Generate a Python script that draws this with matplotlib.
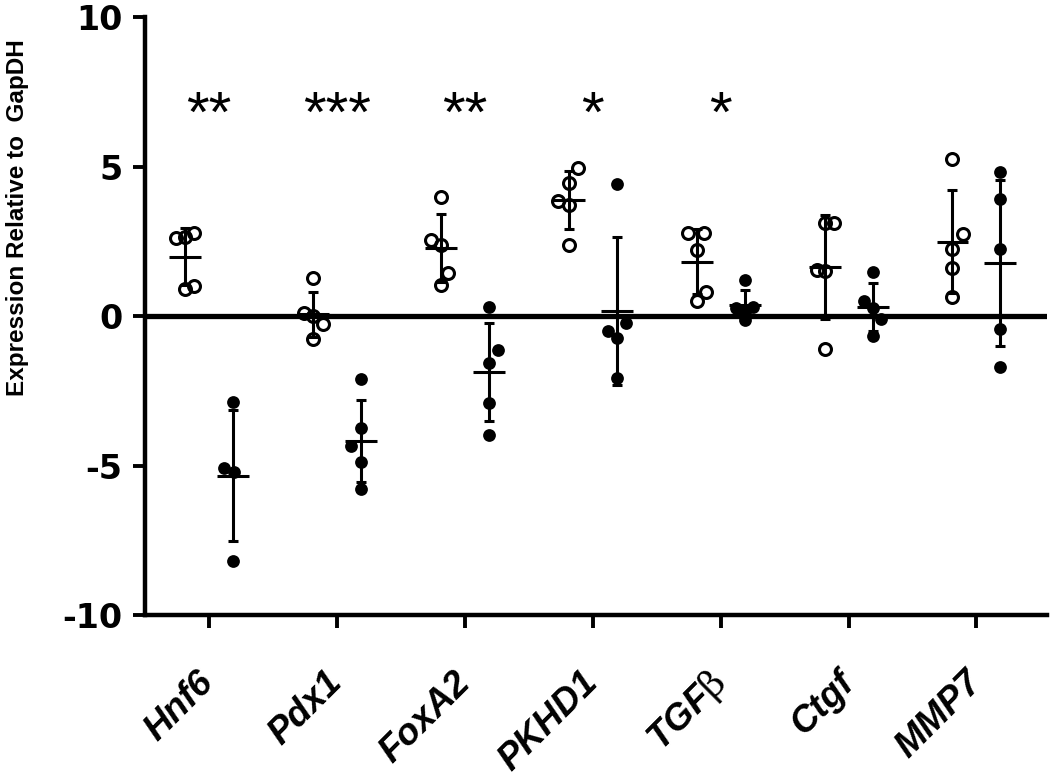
import numpy as np
import matplotlib
matplotlib.use("Agg")
import matplotlib.pyplot as plt

# ---- data ----
genes = ["Hnf6", "Pdx1", "FoxA2", "PKHD1", r"TGF$\mathrm{\beta}$", "Ctgf", "MMP7"]
open_group = [
    [2.60, 2.65, 2.77, 0.89, 1.00],
    [1.27, 0.10, 0.00, -0.27, -0.77],
    [3.97, 2.54, 2.37, 1.45, 1.04],
    [4.94, 4.46, 3.86, 3.71, 2.37],
    [2.79, 2.79, 2.21, 0.81, 0.51],
    [3.12, 3.12, 1.54, 1.52, -1.11],
    [5.24, 2.74, 2.23, 1.60, 0.65],
]
filled_group = [
    [-2.87, -5.08, -5.20, -8.20],
    [-2.12, -3.73, -4.35, -4.88, -5.80],
    [0.29, -1.14, -1.58, -2.92, -3.98],
    [4.41, -0.49, -0.22, -0.75, -2.08],
    [1.20, 0.26, 0.14, 0.31, -0.13],
    [1.48, 0.51, 0.26, -0.11, -0.67],
    [4.83, 3.90, 2.23, -0.44, -1.69],
]
significance = ["**", "***", "**", "*", "*", "", ""]
yticks = [-10, -5, 0, 5, 10]
ylabel = "Expression Relative to  GapDH"

# ---- layout / style (horizontal jitter of overlapping points, category units) ----
open_jitter = [
    [-0.07, 0.0, 0.07, 0.0, 0.07],
    [0.0, -0.07, 0.0, 0.08, 0.0],
    [0.0, -0.08, 0.0, 0.06, 0.0],
    [0.07, 0.0, -0.08, 0.0, 0.0],
    [-0.07, 0.06, 0.0, 0.07, 0.0],
    [0.0, 0.07, -0.06, 0.0, 0.0],
    [0.0, 0.08, 0.0, 0.0, 0.0],
]
filled_jitter = [
    [0.0, -0.07, 0.01, 0.0],
    [0.0, 0.0, -0.08, 0.0, 0.0],
    [0.0, 0.07, 0.0, 0.0, 0.0],
    [0.0, -0.07, 0.07, 0.0, 0.0],
    [0.0, -0.065, 0.0, 0.065, 0.0],
    [0.0, -0.07, 0.0, 0.07, 0.0],
    [0.0, 0.0, 0.0, 0.0, 0.0],
]
offset = 0.1875
mean_half = 0.125

plt.rcParams['axes.unicode_minus'] = False
plt.rcParams['mathtext.fontset'] = 'custom'
plt.rcParams['mathtext.rm'] = 'DejaVu Serif'

fig = plt.figure(figsize=(10.5, 7.78), dpi=100)
ax = fig.add_axes([0.138, 0.2095, 0.859, 0.7685])

lw_err = 2.2
for i in range(len(genes)):
    for vals, jit, sign, filled in [(open_group[i], open_jitter[i], -1, False),
                                    (filled_group[i], filled_jitter[i], 1, True)]:
        vals = np.array(vals)
        xc = i + sign * offset
        xs = xc + np.array(jit)
        if filled:
            ax.plot(xs, vals, 'o', ms=9.2, mfc='black', mec='black', mew=0, zorder=3, ls='none')
        else:
            ax.plot(xs, vals, 'o', ms=8.6, mfc='none', mec='black', mew=2.2, zorder=3, ls='none')
        m = vals.mean()
        sd = vals.std(ddof=1)
        ax.errorbar([xc], [m], yerr=[sd], fmt='none', ecolor='black',
                    elinewidth=lw_err, capsize=3.6, capthick=lw_err, zorder=4)
        ax.hlines(m, xc - mean_half, xc + mean_half, colors='black', lw=lw_err, zorder=4)
    if significance[i]:
        ax.text(i, 6.15, significance[i], ha='center', va='baseline',
                fontsize=42, family='Liberation Sans', color='black')

ax.axhline(0, color='black', lw=3.8, zorder=2)

ax.set_xlim(-0.5, 6.55)
ax.set_ylim(-10, 10)
ax.set_yticks(yticks)
ax.set_yticklabels([str(t) for t in yticks], fontsize=24, fontweight='bold',
                   family='DejaVu Sans')
ax.set_xticks(range(len(genes)))
ax.set_xticklabels(genes, fontsize=26.5, fontweight='bold', fontstyle='italic',
                   family='Liberation Sans', rotation=45, ha='right',
                   va='center', rotation_mode='anchor')
ax.tick_params(axis='both', direction='out', length=9, width=2.8, colors='black')
ax.tick_params(axis='y', pad=7)
ax.tick_params(axis='x', pad=36)

for s in ['top', 'right']:
    ax.spines[s].set_visible(False)
for s in ['left', 'bottom']:
    ax.spines[s].set_linewidth(3.2)

ax.set_ylabel(ylabel, fontsize=17.5, fontweight='bold',
              family=['DejaVu Sans Condensed', 'Liberation Sans'])
ax.yaxis.set_label_coords(-0.128, 0.665)

fig.savefig('out.png', dpi=100)
